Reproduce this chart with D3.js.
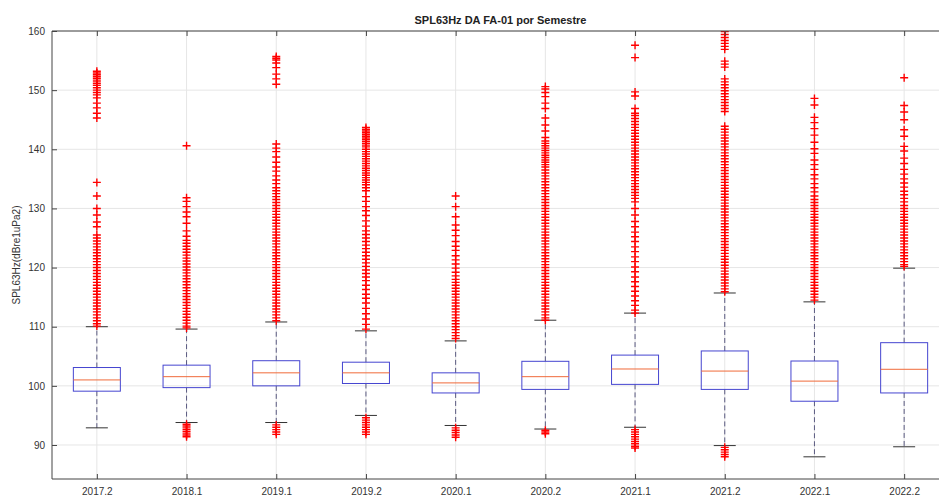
<!DOCTYPE html>
<html><head><meta charset="utf-8">
<script src="https://cdn.jsdelivr.net/npm/d3@7"></script>
<style>body{margin:0;background:#fff}svg{display:block;font-family:"Liberation Sans",Arial,sans-serif}</style>
</head><body><svg id="c" width="939" height="500"></svg>
<script>
const categories = ["2017.2","2018.1","2019.1","2019.2","2020.1","2020.2","2021.1","2021.2","2022.1","2022.2"];
const q1 = [99.1, 99.7, 100.0, 100.4, 98.8, 99.4, 100.25, 99.4, 97.4, 98.8];
const medians = [101.0, 101.55, 102.2, 102.2, 100.5, 101.55, 102.85, 102.5, 100.8, 102.8];
const q3 = [103.1, 103.5, 104.25, 104.0, 102.2, 104.15, 105.2, 105.9, 104.2, 107.3];
const whiskerLow = [92.9, 93.8, 93.8, 95.0, 93.3, 92.7, 93.0, 89.9, 88.0, 89.7];
const whiskerHigh = [110.0, 109.6, 110.8, 109.3, 107.6, 111.1, 112.3, 115.7, 114.2, 119.9];
const yTicks = [90,100,110,120,130,140,150,160];

const out2017_2 = [153.2,152.9,152.6,152.3,152.0,151.7,151.4,151.1,150.8,150.4,150.0,149.6,149.2,148.7,147.8,147.0,146.1,145.3,134.4,132.1,130.0,128.9,127.7,126.9,125.5,125.0,124.5,124.0,123.5,123.0,122.5,122.0,121.5,121.0,120.5,120.0,119.5,119.0,118.5,118.0,117.5,117.0,116.5,116.0,115.5,115.0,114.5,114.0,113.5,113.0,112.5,112.0,111.5,111.0,110.5,110.1];
const out2018_1 = [140.6,131.8,131.2,130.3,129.4,128.6,127.5,126.2,125.3,124.6,124.1,123.6,123.1,122.6,122.1,121.6,121.1,120.6,120.1,119.6,119.1,118.6,118.1,117.6,117.1,116.6,116.1,115.6,115.1,114.6,114.1,113.6,113.1,112.6,112.1,111.6,111.1,110.6,110.1,109.8,
  93.5,93.2,92.9,92.6,92.3,92.0,91.7,91.4];
const out2019_1 = [155.7,155.4,155.1,154.6,153.8,152.7,151.9,151.0,140.9,140.2,139.6,138.7,137.8,137.0,136.3,135.5,134.8,134.2,133.5,133.0,132.5,132.0,131.5,131.0,130.5,130.0,129.5,129.0,128.5,128.0,127.5,127.0,126.5,126.0,125.5,125.0,124.5,124.0,123.5,123.0,122.5,122.0,121.5,121.0,120.5,120.0,119.5,119.0,118.5,118.0,117.5,117.0,116.5,116.0,115.5,115.0,114.5,114.0,113.5,113.0,112.5,112.0,111.5,111.0,
  93.4,93.0,92.6,92.2,91.8];
const out2019_2 = [143.7,143.4,143.1,142.8,142.5,142.2,141.9,141.6,141.3,141.0,140.7,140.4,140.0,139.6,139.2,138.8,138.4,138.0,137.6,137.2,136.8,136.4,136.0,135.6,135.2,134.8,134.4,134.0,133.5,133.0,132.0,131.2,130.3,129.6,128.8,127.9,127.0,126.2,125.6,125.0,124.4,123.8,123.2,122.6,122.0,121.4,120.8,120.2,119.6,119.0,118.4,117.8,117.0,116.3,115.5,114.8,114.0,113.1,112.2,111.3,110.4,109.6,
  94.6,94.2,93.8,93.4,93.0,92.6,92.2,91.8];
const out2020_1 = [132.1,130.3,128.6,127.2,126.3,125.4,124.4,123.6,122.9,122.0,121.3,120.6,119.9,119.2,118.6,118.0,117.5,117.0,116.5,116.0,115.5,115.0,114.5,114.0,113.5,113.0,112.5,112.0,111.5,111.0,110.5,110.0,109.5,109.0,108.5,108.0,
  92.9,92.5,92.1,91.7,91.3];
const out2020_2 = [150.6,150.2,149.6,148.9,147.8,146.9,145.3,144.1,143.1,142.0,141.4,141.0,140.6,140.2,139.8,139.4,139.0,138.6,138.2,137.8,137.4,137.0,136.5,136.0,135.5,135.0,134.5,134.0,133.5,133.0,132.5,132.0,131.5,131.0,130.5,130.0,129.5,129.0,128.5,128.0,127.5,127.0,126.5,126.0,125.5,125.0,124.5,124.0,123.5,123.0,122.5,122.0,121.5,121.0,120.5,120.0,119.5,119.0,118.5,118.0,117.5,117.0,116.5,116.0,115.5,115.0,114.5,114.0,113.5,113.0,112.5,112.0,111.5,111.1,
  92.5,92.2,91.9];
const out2021_1 = [157.6,155.5,149.7,149.0,146.9,146.1,145.7,145.2,144.7,144.2,143.7,143.2,142.7,142.2,141.7,141.2,140.7,140.2,139.7,139.2,138.7,138.2,137.7,137.2,136.7,136.2,135.7,135.2,134.7,134.2,133.7,133.2,132.7,132.2,131.7,131.1,130.0,128.9,127.8,126.9,126.0,125.2,124.4,123.5,122.7,121.8,121.0,120.1,119.3,118.4,117.6,116.8,116.0,115.2,114.4,113.6,112.8,112.3,
  92.6,92.2,91.8,91.4,91.0,90.6,90.2,89.8,89.5];
const out2021_2 = [159.9,159.4,158.9,158.4,157.9,157.4,156.9,154.9,154.4,153.9,151.9,151.4,150.9,150.4,149.9,149.4,148.9,148.4,147.9,147.4,146.9,146.4,143.9,143.4,142.9,142.4,141.9,141.4,140.9,140.4,139.9,139.4,138.9,138.4,137.9,137.4,136.9,136.4,135.9,135.4,134.9,134.4,133.9,133.4,132.9,132.4,131.9,131.4,130.9,130.4,129.9,129.4,128.9,128.4,127.9,127.4,126.9,126.4,125.9,125.4,124.9,124.4,123.9,123.4,122.9,122.4,121.9,121.4,120.9,120.4,119.9,119.4,118.9,118.4,117.9,117.4,116.9,116.4,115.9,
  89.6,89.2,88.8,88.4,88.0];
const out2022_1 = [148.6,147.5,145.4,144.5,143.5,142.4,141.2,140.1,139.3,138.2,137.4,136.6,135.7,135.0,134.2,133.5,132.8,132.1,131.5,131.0,130.5,130.0,129.5,129.0,128.5,128.0,127.5,127.0,126.5,126.0,125.5,125.0,124.5,124.0,123.5,123.0,122.5,122.0,121.5,121.0,120.5,120.0,119.5,119.0,118.5,118.0,117.5,117.0,116.5,116.0,115.5,115.0,114.5];
const out2022_2 = [152.1,147.4,146.3,145.0,143.3,142.2,140.5,139.7,138.5,137.6,136.6,135.8,135.0,134.3,133.6,132.9,132.3,131.7,131.1,130.5,130.0,129.5,129.0,128.5,128.0,127.5,127.0,126.5,126.0,125.5,125.0,124.5,124.0,123.5,123.0,122.5,122.0,121.5,121.0,120.5,120.2];
const outliers = [out2017_2,out2018_1,out2019_1,out2019_2,out2020_1,out2020_2,out2021_1,out2021_2,out2022_1,out2022_2];

const L = 52, R = 949, T = 31, B = 479;
const svg = d3.select("#c");
const x = d3.scalePoint().domain(categories).range([L, R]).padding(0.5);
const y = d3.scaleLinear().domain([84.25, 160]).range([B, T]);

svg.append("defs").append("clipPath").attr("id","clip")
  .append("rect").attr("x",L).attr("y",T).attr("width",R-L).attr("height",B-T);

// grid
const grid = svg.append("g");
grid.selectAll(".gy").data(yTicks).join("line")
  .attr("x1",L).attr("x2",R).attr("y1",d=>y(d)).attr("y2",d=>y(d))
  .attr("stroke","#e6e6e6").attr("stroke-width",1);
grid.selectAll(".gx").data(categories).join("line")
  .attr("x1",d=>x(d)).attr("x2",d=>x(d)).attr("y1",T).attr("y2",B)
  .attr("stroke","#e6e6e6").attr("stroke-width",1);

const data = categories.map((c,i)=>({c, q1:q1[i], med:medians[i], q3:q3[i], lo:whiskerLow[i], hi:whiskerHigh[i], out:outliers[i]}));
const plot = svg.append("g").attr("clip-path","url(#clip)");
const bw = 23.5, cw = 11;
const g = plot.selectAll(".bx").data(data).join("g");
// whiskers
g.append("line").attr("x1",d=>x(d.c)).attr("x2",d=>x(d.c)).attr("y1",d=>y(d.q3)).attr("y2",d=>y(d.hi))
  .attr("stroke","#5a5a80").attr("stroke-dasharray","5,3").attr("stroke-width",1);
g.append("line").attr("x1",d=>x(d.c)).attr("x2",d=>x(d.c)).attr("y1",d=>y(d.q1)).attr("y2",d=>y(d.lo))
  .attr("stroke","#5a5a80").attr("stroke-dasharray","5,3").attr("stroke-width",1);
g.append("line").attr("x1",d=>x(d.c)-cw).attr("x2",d=>x(d.c)+cw).attr("y1",d=>y(d.hi)).attr("y2",d=>y(d.hi))
  .attr("stroke","#333").attr("stroke-width",1);
g.append("line").attr("x1",d=>x(d.c)-cw).attr("x2",d=>x(d.c)+cw).attr("y1",d=>y(d.lo)).attr("y2",d=>y(d.lo))
  .attr("stroke","#333").attr("stroke-width",1);
// box
g.append("rect").attr("x",d=>x(d.c)-bw).attr("width",bw*2)
  .attr("y",d=>y(d.q3)).attr("height",d=>y(d.q1)-y(d.q3))
  .attr("fill","none").attr("stroke","#4545d0").attr("stroke-width",1);
g.append("line").attr("x1",d=>x(d.c)-bw).attr("x2",d=>x(d.c)+bw).attr("y1",d=>y(d.med)).attr("y2",d=>y(d.med))
  .attr("stroke","#f06a3a").attr("stroke-width",1);
// outliers
g.each(function(d){
  const cx = x(d.c);
  d3.select(this).selectAll("path.o").data(d.out).join("path").attr("class","o")
    .attr("d",v=>{const cy=y(v);return `M${cx-4},${cy}H${cx+4}M${cx},${cy-4}V${cy+4}`;})
    .attr("stroke","#ff0000").attr("stroke-width",1.4).attr("fill","none");
});

// axes
const ax = svg.append("g").attr("transform",`translate(${L},0)`)
  .call(d3.axisLeft(y).tickValues(yTicks).tickSize(-5).tickPadding(7));
ax.select(".domain").remove();
ax.selectAll("line").attr("stroke","#444");
ax.selectAll("text").attr("font-size",10).attr("fill","#333").attr("font-family","Liberation Sans, Arial, sans-serif");

const bx = svg.append("g").attr("transform",`translate(0,${B})`)
  .call(d3.axisBottom(x).tickSize(-5).tickPadding(9));
bx.select(".domain").remove();
bx.selectAll("line").attr("stroke","#444");
bx.selectAll("text").attr("font-size",10).attr("fill","#333").attr("font-family","Liberation Sans, Arial, sans-serif");

const tx = svg.append("g").attr("transform",`translate(0,${T})`)
  .call(d3.axisTop(x).tickSize(-5).tickFormat(""));
tx.select(".domain").remove();
tx.selectAll("line").attr("stroke","#444");

// frame
svg.append("line").attr("x1",L).attr("x2",L).attr("y1",T).attr("y2",B).attr("stroke","#444");
svg.append("line").attr("x1",L).attr("x2",R).attr("y1",B).attr("y2",B).attr("stroke","#444");
svg.append("line").attr("x1",L).attr("x2",R).attr("y1",T).attr("y2",T).attr("stroke","#444");

svg.append("text").attr("x",(L+R)/2).attr("y",24).attr("text-anchor","middle")
  .attr("font-size",11).attr("font-weight","bold").attr("fill","#222")
  .text("SPL63Hz DA FA-01 por Semestre");
svg.append("text").attr("transform",`translate(20,${(T+B)/2}) rotate(-90)`).attr("text-anchor","middle")
  .attr("font-size",10).attr("fill","#333").text("SPL63Hz(dBre1uPa2)");
</script></body></html>
